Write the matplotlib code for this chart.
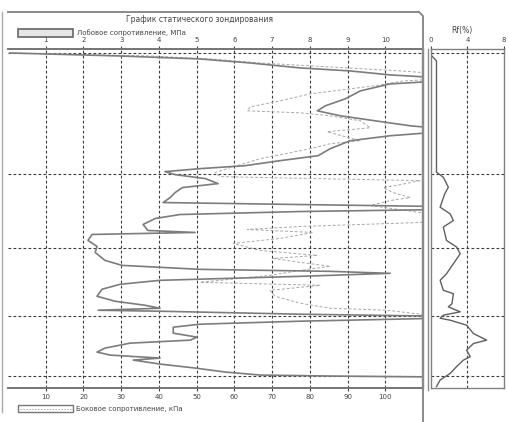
"""
Static penetration (CPT) log: cone resistance, sleeve friction and Rf.
"""
import matplotlib
matplotlib.use("Agg")
import matplotlib.pyplot as plt
from matplotlib.lines import Line2D
from matplotlib.patches import Rectangle

W, H = 510, 422

# layer boundaries, m
LAYERS = [0.0, 6.05, 9.8, 13.2, 16.2]

# cone resistance, MPa (top axis)
Q_DEPTH = [0.00, 0.15, 0.30, 0.50, 0.75, 0.90, 1.10, 1.25, 1.40, 1.55, 1.90,
           2.30, 2.65, 2.90, 3.15, 3.40, 3.65, 3.80, 3.95, 4.15, 4.40, 4.80,
           5.15, 5.40, 5.65, 5.80, 5.95, 6.10, 6.30, 6.55, 6.75, 7.00, 7.25,
           7.50, 7.60, 7.70, 7.85, 7.95, 8.10, 8.30, 8.60, 8.90, 9.00, 9.10,
           9.40, 9.70, 10.00, 10.40, 10.65, 10.85, 10.95, 11.05, 11.20, 11.40,
           11.60, 11.85, 12.20, 12.45, 12.65, 12.80, 12.90, 12.95, 13.10,
           13.20, 13.30, 13.45, 13.60, 13.75, 14.05, 14.25, 14.40, 14.55,
           14.80, 15.00, 15.15, 15.30, 15.40, 15.60, 15.80, 16.00, 16.15,
           16.20, 16.25]
Q_MPA = [0.05, 2.97, 5.09, 6.42, 7.75, 9.07, 10.13, 11.5, 11.5, 10.13, 9.34,
         8.94, 8.41, 8.20, 8.81, 9.73, 10.66, 11.5, 11.5, 10.13, 9.07, 8.54,
         8.22, 7.21, 6.29, 5.09, 4.16, 4.43, 5.23, 5.57, 4.62, 4.43, 4.30,
         4.11, 7.75, 11.5, 11.5, 7.75, 4.56, 3.90, 3.58, 3.71, 4.96, 2.23,
         2.12, 2.36, 2.31, 2.57, 3.02, 5.09, 8.54, 10.13, 7.75, 4.03,
         2.97, 2.49, 2.36, 2.84, 3.63, 4.03, 2.39, 4.03, 7.75,
         11.5, 11.5, 7.75, 5.09, 4.38, 4.38, 5.01, 4.83, 3.24,
         2.57, 2.36, 2.71, 4.03, 3.32, 4.03, 4.96, 5.76, 6.68,
         8.54, 11.5]

# sleeve friction, kPa (bottom axis)
F_DEPTH = [0.00, 0.15, 0.30, 0.50, 0.70, 0.90, 1.05, 1.30, 1.40, 1.60, 1.80,
           2.05, 2.40, 2.70, 2.90, 3.00, 3.15, 3.40, 3.75, 3.95, 4.20, 4.40,
           4.55, 4.80, 5.00, 5.30, 5.50, 5.75, 6.00, 6.20, 6.30, 6.40, 6.60,
           6.75, 7.00, 7.25, 7.40, 7.65, 8.00, 8.20, 8.50, 8.70, 8.85, 9.00,
           9.30, 9.55, 9.90, 10.15, 10.30, 10.50, 10.70, 10.90, 11.15, 11.50,
           11.65, 11.90, 12.20, 12.55, 12.80, 12.90, 13.10, 13.30, 16.20]
F_KPA = [0.5, 37.7, 53.6, 66.8, 85.4, 104.0, 115, 115, 104.8, 98.7, 90.7,
         80.1, 72.1, 64.2, 63.4, 77.5, 85.4, 93.4, 96.0, 84.6, 89.4, 93.4,
         85.4, 80.1, 74.8, 66.8, 63.4, 58.9, 54.9, 56.2, 82.0, 109.3, 104.0,
         99.5, 102.1, 106.6, 101.3, 96.0, 109.3, 115, 109.3, 77.5, 63.4, 80.9,
         72.1, 59.7, 66.8, 82.0, 70.3, 77.5, 85.4, 77.5, 69.5, 50.9,
         82.8, 69.5, 70.8, 77.5, 85.4, 100.5, 109.3, 115, 115]

# friction ratio, %
RF_DEPTH = [0.15, 0.40, 5.98, 6.23, 6.73, 7.07, 7.73, 8.07, 8.40, 8.73, 9.40,
            9.73, 10.07, 10.57, 11.07, 11.40, 11.90, 12.07, 12.57, 12.73,
            12.98, 13.15, 13.30, 13.40, 13.65, 14.07, 14.40, 14.57, 14.90,
            15.23, 15.40, 15.73, 16.07, 16.40, 16.73]
RF_PCT = [0.1, 0.6, 0.6, 1.35, 1.9, 1.5, 1.0, 2.1, 2.45, 1.35, 1.7,
          2.8, 3.2, 2.45, 1.7, 1.0, 1.35, 2.45, 2.3, 1.9,
          3.2, 1.35, 1.0, 2.1, 3.9, 4.65, 6.1, 4.65, 3.9,
          4.3, 3.55, 2.8, 2.1, 1.0, 0.6]

Q_TICKS = list(range(1, 11))
F_TICKS = list(range(10, 101, 10))
RF_TICKS = [0, 4, 8]
Y_LIM = (16.8, -0.2)

GRID = dict(color="#3a3a3a", linewidth=0.8, dashes=(2.5, 2))


def rect(x0, y0, x1, y1):
    return [x0 / W, 1 - y1 / H, (x1 - x0) / W, (y1 - y0) / H]


def fline(xs, ys, **kw):
    fig.add_artist(Line2D([x / W for x in xs], [1 - y / H for y in ys], **kw))


plt.rcParams["font.family"] = ["DejaVu Sans"]
fig = plt.figure(figsize=(W / 100, H / 100), dpi=100)

# main panel
ax = fig.add_axes(rect(8, 49, 423, 388))
ax.set_xlim(0, 110)
ax.set_ylim(*Y_LIM)
ax.set_xticks(F_TICKS)
ax.set_yticks([])
ax.tick_params(axis="x", labelsize=5, length=2.5, width=0.8,
               colors="#444444", pad=2)
for x in F_TICKS:
    ax.axvline(x, **GRID)
for d in LAYERS:
    ax.axhline(d, **GRID)
ax.plot(F_KPA, F_DEPTH, color="#a8a8a8", linewidth=0.7, dashes=(3, 2))

axq = ax.twiny()
axq.set_xlim(0, 11)
axq.set_xticks(Q_TICKS)
axq.tick_params(axis="x", labelsize=5, length=2.5, width=0.8,
                colors="#444444", pad=2)
axq.plot(Q_MPA, Q_DEPTH, color="#7c7c7c", linewidth=1.2)

for a in (ax, axq):
    a.spines["left"].set_visible(False)
    a.spines["right"].set_color("#8a8a8a")
    a.spines["right"].set_linewidth(1.6)
    for s in ("top", "bottom"):
        a.spines[s].set_color("#777777")
        a.spines[s].set_linewidth(1.3)

# Rf panel
axr = fig.add_axes(rect(431, 49, 504, 388))
axr.set_xlim(0, 8)
axr.set_ylim(*Y_LIM)
axr.set_xticks(RF_TICKS)
axr.set_yticks([])
axr.xaxis.tick_top()
axr.tick_params(axis="x", labelsize=5, length=2.5, width=0.8,
                colors="#444444", pad=2)
axr.axvline(4, **GRID)
for d in LAYERS:
    axr.axhline(d, **GRID)
axr.plot(RF_PCT, RF_DEPTH, color="#606060", linewidth=1.0)
for s in axr.spines.values():
    s.set_color("#808080")
    s.set_linewidth(1.0)

# frames, titles and legend swatches
fline([2, 2], [12, 412], color="#a8a8a8", linewidth=1.0)
fline([8, 419], [12, 12], color="#8a8a8a", linewidth=1.4)
fline([419, 423, 423], [12, 16, 422], color="#8a8a8a", linewidth=1.4)
fline([428, 428], [49, 390], color="#8a8a8a", linewidth=1.0)

fig.text(200 / W, 1 - 20 / H, "График статического зондирования",
         fontsize=5.5, ha="center", va="center", color="#444444")
fig.text(462 / W, 1 - 31 / H, "Rf(%)", fontsize=5.5, ha="center",
         va="center", color="#444444")

fig.add_artist(Rectangle((18 / W, 1 - 37 / H), 55 / W, 8 / H,
                         transform=fig.transFigure, facecolor="#e6e6e6",
                         edgecolor="#666666", linewidth=1.2))
fig.text(77 / W, 1 - 33 / H, "Лобовое сопротивление, МПа", fontsize=5,
         ha="left", va="center", color="#444444")
fig.add_artist(Rectangle((18 / W, 1 - 412 / H), 55 / W, 7 / H,
                         transform=fig.transFigure, facecolor="white",
                         edgecolor="#777777", linewidth=1.0))
fline([20, 71], [408.5, 408.5], color="#aaaaaa", linewidth=0.7,
      dashes=(1.5, 1.5))
fig.text(76 / W, 1 - 408.5 / H, "Боковое сопротивление, кПа", fontsize=5,
         ha="left", va="center", color="#444444")

fig.savefig("out.png", dpi=100)
